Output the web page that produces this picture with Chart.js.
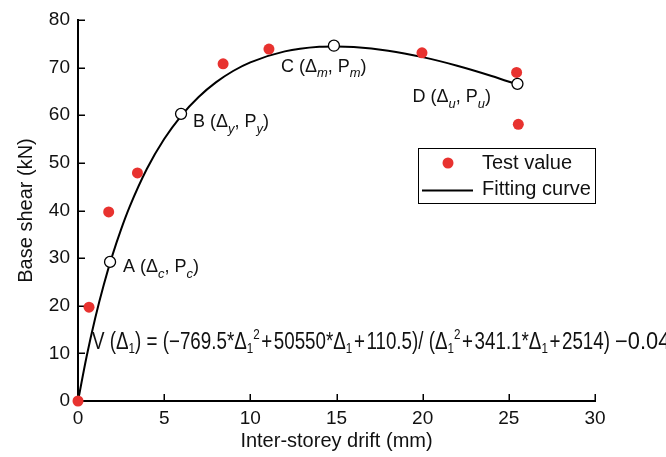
<!DOCTYPE html>
<html><head><meta charset="utf-8">
<script src="https://cdn.jsdelivr.net/npm/chart.js@4.4.0/dist/chart.umd.min.js"></script>
<style>html,body{margin:0;padding:0;background:#fff}canvas{display:block}</style>
</head><body>
<canvas id="c" width="666" height="457"></canvas>
<script>
// ---- data ----
const testDrift = [0, 0.64, 1.78, 3.45, 8.42, 11.08, 19.96, 25.45, 25.55];
const testShear = [0, 19.7, 39.7, 47.9, 70.8, 73.9, 73.1, 69.0, 58.1];
const curveDrift = [0, 0.5, 1, 1.5, 2, 2.5, 3, 4, 5, 6, 7, 8, 9, 10, 12, 14, 15, 16, 18, 20, 22, 24, 25.6];
const curveShear = [0, 9.34, 17.43, 24.47, 30.62, 36.03, 40.80, 48.75, 55.00, 59.94, 63.84, 66.90, 69.29, 71.11, 73.41, 74.37, 74.46, 74.33, 73.55, 72.20, 70.40, 68.25, 66.33];
const keyNames = ['A', 'B', 'C', 'D'];
const keySubs = ['c', 'y', 'm', 'u'];
const keyDrift = [1.86, 5.98, 14.85, 25.5];
const keyShear = [29.2, 60.3, 74.6, 66.6];
const xTicks = [0, 5, 10, 15, 20, 25, 30];
const yTicks = [0, 10, 20, 30, 40, 50, 60, 70, 80];
const legendLabels = ['Test value', 'Fitting curve'];
const xTitle = 'Inter-storey drift (mm)';
const yTitle = 'Base shear (kN)';

const FONT = "'Liberation Sans', Arial, Helvetica, sans-serif";
const RED = '#e8322f';

const pts = (xs, ys) => xs.map((x, i) => ({x: x, y: ys[i]}));

// label placement offsets (px) relative to key points
const labelOffsets = [[13, 10], [12, 13], [-53, 26], [-105, 18]];

function drawRich(ctx, x, y, parts, size, k) {
  k = k || {sub: 0.72, subDy: 0.32, supDy: 0.42};
  let cx = x;
  for (const p of parts) {
    let s = size, dy = 0;
    if (p.m === 'sub') { s = size * k.sub; dy = size * k.subDy; }
    if (p.m === 'sup') { s = size * k.sub; dy = -size * k.supDy; }
    ctx.font = (p.i ? 'italic ' : '') + s + 'px ' + FONT;
    ctx.fillText(p.t, cx, y + dy);
    cx += ctx.measureText(p.t).width;
  }
  return cx - x;
}
function richWidth(ctx, parts, size, k) {
  k = k || {sub: 0.72};
  let w = 0;
  for (const p of parts) {
    let s = (p.m === 'sub' || p.m === 'sup') ? size * k.sub : size;
    ctx.font = (p.i ? 'italic ' : '') + s + 'px ' + FONT;
    w += ctx.measureText(p.t).width;
  }
  return w;
}

const H = '\u200A'; // hair space
const overlay = {
  id: 'overlay',
  afterDatasetsDraw(chart) {
    const ctx = chart.ctx;
    const xs = chart.scales.x, ys = chart.scales.y;
    const area = chart.chartArea;
    ctx.save();
    ctx.textBaseline = 'alphabetic';
    ctx.textAlign = 'left';
    ctx.fillStyle = '#111';
    // key point labels
    keyNames.forEach((n, i) => {
      const px = xs.getPixelForValue(keyDrift[i]);
      const py = ys.getPixelForValue(keyShear[i]);
      const [ox, oy] = labelOffsets[i];
      drawRich(ctx, px + ox, py + oy, [
        {t: n + ' (\u0394'}, {t: keySubs[i], m: 'sub', i: true},
        {t: ', P'}, {t: keySubs[i], m: 'sub', i: true}, {t: ')'}
      ], 18);
    });
    // formula (condensed, as in the reference)
    const fk = {sub: 0.62, subDy: 0.18, supDy: 0.42};
    const P = H + '+' + H;
    const fparts = [
      {t: 'V (\u0394'}, {t: '1', m: 'sub'}, {t: ') = (\u2212769.5*\u0394'}, {t: '1', m: 'sub'}, {t: '2', m: 'sup'},
      {t: P + '50550*\u0394'}, {t: '1', m: 'sub'}, {t: P + '110.5)/ (\u0394'}, {t: '1', m: 'sub'}, {t: '2', m: 'sup'},
      {t: P + '341.1*\u0394'}, {t: '1', m: 'sub'}, {t: P + '2514)'}
    ];
    const fsize = 23;
    const w = richWidth(ctx, fparts, fsize, fk);
    const sx = 518 / w;
    ctx.save();
    ctx.translate(area.left + 14, 349);
    ctx.scale(sx, 1);
    drawRich(ctx, 0, 0, fparts, fsize, fk);
    ctx.restore();
    ctx.save();
    ctx.translate(area.left + 14 + 518 + 5, 349);
    ctx.scale(0.95, 1);
    drawRich(ctx, 0, 0, [{t: '\u22120.04'}], fsize, fk);
    ctx.restore();

    // legend
    ctx.strokeStyle = '#000';
    ctx.lineWidth = 1;
    ctx.strokeRect(418.5, 148.5, 177, 55);
    ctx.beginPath();
    ctx.fillStyle = RED;
    ctx.arc(448, 163, 5.5, 0, Math.PI * 2);
    ctx.fill();
    ctx.beginPath();
    ctx.lineWidth = 2;
    ctx.moveTo(422, 190.5);
    ctx.lineTo(473, 190.5);
    ctx.stroke();
    ctx.fillStyle = '#111';
    ctx.font = '20px ' + FONT;
    ctx.fillText(legendLabels[0], 482, 169);
    ctx.fillText(legendLabels[1], 482, 195);
    ctx.restore();
  },
  beforeDatasetsDraw(chart) {
    // inward tick marks
    const ctx = chart.ctx;
    const xs = chart.scales.x, ys = chart.scales.y;
    const a = chart.chartArea;
    ctx.save();
    ctx.strokeStyle = '#000';
    ctx.lineWidth = 1.5;
    ctx.beginPath();
    xTicks.forEach(v => {
      const p = Math.round(xs.getPixelForValue(v)) + 0.25;
      ctx.moveTo(p, a.bottom); ctx.lineTo(p, a.bottom - 7);
    });
    yTicks.forEach(v => {
      const p = Math.round(ys.getPixelForValue(v)) + 0.25;
      ctx.moveTo(a.left, p); ctx.lineTo(a.left + 7, p);
    });
    ctx.stroke();
    ctx.restore();
  }
};

new Chart(document.getElementById('c'), {
  type: 'scatter',
  data: {
    datasets: [
      {
        label: 'Key points', data: pts(keyDrift, keyShear), order: 0,
        pointRadius: 5.5, pointBackgroundColor: '#fff', pointBorderColor: '#000', pointBorderWidth: 1.3,
        showLine: false, clip: false
      },
      {
        label: legendLabels[0], data: pts(testDrift, testShear), order: 1,
        pointRadius: 5.5, pointBackgroundColor: RED, pointBorderColor: RED, pointBorderWidth: 0,
        showLine: false, clip: false
      },
      {
        label: legendLabels[1], data: pts(curveDrift, curveShear), order: 2,
        showLine: true, pointRadius: 0, borderColor: '#000', borderWidth: 2,
        cubicInterpolationMode: 'monotone', clip: false
      }
    ]
  },
  options: {
    responsive: false,
    animation: false,
    devicePixelRatio: 1,
    layout: {padding: {top: 20, right: 71, left: 0, bottom: 0}},
    plugins: {legend: {display: false}, tooltip: {enabled: false}},
    scales: {
      x: {
        type: 'linear', min: 0, max: 30,
        afterFit(s) { s.height = 56; },
        afterBuildTicks(s) { s.ticks = xTicks.map(v => ({value: v})); },
        grid: {display: false, drawTicks: false},
        border: {display: true, color: '#000', width: 2},
        ticks: {color: '#111', padding: 6, font: {family: FONT, size: 19}},
        title: {display: true, text: xTitle, color: '#111', font: {family: FONT, size: 20}, padding: {top: 0, bottom: 4}}
      },
      y: {
        type: 'linear', min: 0, max: 80,
        afterFit(s) { s.width = 78; },
        afterBuildTicks(s) { s.ticks = yTicks.map(v => ({value: v})); },
        grid: {display: false, drawTicks: false},
        border: {display: true, color: '#000', width: 2},
        ticks: {color: '#111', padding: 8, font: {family: FONT, size: 19}},
        title: {display: true, text: yTitle, color: '#111', font: {family: FONT, size: 20}, padding: {top: 14, bottom: 0}}
      }
    }
  },
  plugins: [overlay]
});
</script>
</body></html>
